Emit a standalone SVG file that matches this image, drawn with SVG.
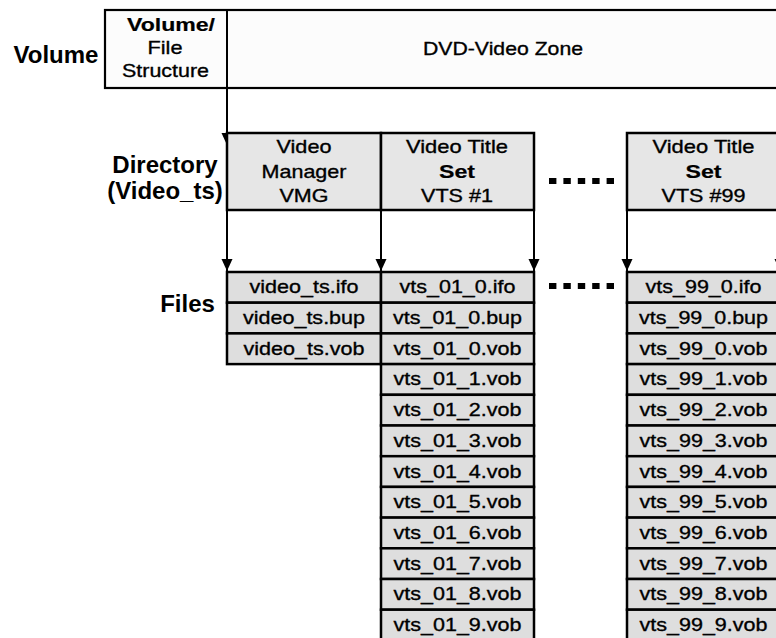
<svg xmlns="http://www.w3.org/2000/svg" width="776" height="638" viewBox="0 0 776 638">
<style>
text{font-family:"Liberation Sans",Arial,sans-serif;text-anchor:middle;fill:#000}
.lbl{font-weight:bold;font-size:24px}
.t{font-size:19px;stroke:#000;stroke-width:0.35px}
.b{font-weight:bold;stroke-width:0.2px}
.top{fill:#fcfcfc;stroke:#000;stroke-width:2.2}
.dir{fill:#e6e6e6;stroke:#000;stroke-width:2.5}
.file{fill:#dedede;stroke:#000;stroke-width:2.5}
.conn{stroke:#000;stroke-width:2;fill:none;marker-end:url(#arr)}
.dots{stroke:#000;stroke-width:6;stroke-dasharray:7.4 7;fill:none}
</style>
<defs>
<marker id="arr" markerUnits="userSpaceOnUse" markerWidth="12" markerHeight="12" viewBox="0 -6 12 12" refX="12" refY="0" orient="auto">
<path d="M0,-5.5 L12,0 L0,5.5 z" fill="#000"/>
</marker>
</defs>
<rect width="776" height="638" fill="#fff"/>

<g id="labels">
<text class="lbl" x="56" y="63">Volume</text>
<text class="lbl" x="165" y="173">Directory</text>
<text class="lbl" x="165" y="199">(Video_ts)</text>
<text class="lbl" x="187.5" y="311.5">Files</text>
</g>

<g id="connectors">
<line class="conn" x1="227" y1="88" x2="227" y2="145"/>
<line class="conn" x1="227" y1="210" x2="227" y2="271"/>
<line class="conn" x1="381" y1="210" x2="381" y2="271"/>
<line class="conn" x1="534" y1="210" x2="534" y2="271"/>
<line class="conn" x1="627" y1="210" x2="627" y2="271"/>
<line class="conn" x1="780" y1="210" x2="780" y2="271"/>
</g>

<g id="volume">
<rect class="top" x="105" y="10" width="675" height="78"/>
<line x1="227" y1="10" x2="227" y2="88" stroke="#000" stroke-width="2"/>
<text class="t b" x="171" y="31" font-size="20" textLength="88" lengthAdjust="spacingAndGlyphs">Volume/</text>
<text class="t" x="165" y="54" textLength="35" lengthAdjust="spacingAndGlyphs">File</text>
<text class="t" x="165.5" y="77" textLength="87" lengthAdjust="spacingAndGlyphs">Structure</text>
<text class="t" x="503" y="55" textLength="160" lengthAdjust="spacingAndGlyphs">DVD-Video Zone</text>
</g>

<g id="vmg">
<rect class="dir" x="227" y="133" width="154" height="77"/>
<text class="t" x="304" y="153" textLength="55" lengthAdjust="spacingAndGlyphs">Video</text>
<text class="t" x="304" y="177.5" textLength="85" lengthAdjust="spacingAndGlyphs">Manager</text>
<text class="t" x="304" y="202" textLength="49" lengthAdjust="spacingAndGlyphs">VMG</text>
</g>
<g id="vts1">
<rect class="dir" x="381" y="133" width="153" height="77"/>
<text class="t" x="457" y="153" textLength="102" lengthAdjust="spacingAndGlyphs">Video Title</text>
<text class="t b" x="457" y="177.5" font-size="21" textLength="36" lengthAdjust="spacingAndGlyphs">Set</text>
<text class="t" x="457" y="202" textLength="72" lengthAdjust="spacingAndGlyphs">VTS #1</text>
</g>
<g id="vts99">
<rect class="dir" x="627" y="133" width="153" height="77"/>
<text class="t" x="703.5" y="153" textLength="102" lengthAdjust="spacingAndGlyphs">Video Title</text>
<text class="t b" x="703.5" y="177.5" font-size="21" textLength="36" lengthAdjust="spacingAndGlyphs">Set</text>
<text class="t" x="703.5" y="202" textLength="84" lengthAdjust="spacingAndGlyphs">VTS #99</text>
</g>

<g id="ellipsis">
<line class="dots" x1="549" y1="181" x2="614" y2="181"/>
<line class="dots" x1="549" y1="286" x2="614" y2="286"/>
</g>

<g id="vmg-files">
<rect class="file" x="227" y="272" width="154" height="30.7"/><text class="t" x="304" y="293.3" textLength="109" lengthAdjust="spacingAndGlyphs">video_ts.ifo</text>
<rect class="file" x="227" y="302.7" width="154" height="30.7"/><text class="t" x="304" y="324" textLength="122" lengthAdjust="spacingAndGlyphs">video_ts.bup</text>
<rect class="file" x="227" y="333.4" width="154" height="30.7"/><text class="t" x="304" y="354.7" textLength="121" lengthAdjust="spacingAndGlyphs">video_ts.vob</text>
</g>

<g id="vts1-files">
<rect class="file" x="381" y="272" width="153" height="30.7"/><text class="t" x="457.5" y="293.3" textLength="116" lengthAdjust="spacingAndGlyphs">vts_01_0.ifo</text>
<rect class="file" x="381" y="302.7" width="153" height="30.7"/><text class="t" x="457.5" y="324" textLength="129" lengthAdjust="spacingAndGlyphs">vts_01_0.bup</text>
<rect class="file" x="381" y="333.4" width="153" height="30.7"/><text class="t" x="457.5" y="354.7" textLength="128" lengthAdjust="spacingAndGlyphs">vts_01_0.vob</text>
<rect class="file" x="381" y="364.1" width="153" height="30.7"/><text class="t" x="457.5" y="385.4" textLength="128" lengthAdjust="spacingAndGlyphs">vts_01_1.vob</text>
<rect class="file" x="381" y="394.8" width="153" height="30.7"/><text class="t" x="457.5" y="416.1" textLength="128" lengthAdjust="spacingAndGlyphs">vts_01_2.vob</text>
<rect class="file" x="381" y="425.5" width="153" height="30.7"/><text class="t" x="457.5" y="446.8" textLength="128" lengthAdjust="spacingAndGlyphs">vts_01_3.vob</text>
<rect class="file" x="381" y="456.2" width="153" height="30.7"/><text class="t" x="457.5" y="477.5" textLength="128" lengthAdjust="spacingAndGlyphs">vts_01_4.vob</text>
<rect class="file" x="381" y="486.9" width="153" height="30.7"/><text class="t" x="457.5" y="508.2" textLength="128" lengthAdjust="spacingAndGlyphs">vts_01_5.vob</text>
<rect class="file" x="381" y="517.6" width="153" height="30.7"/><text class="t" x="457.5" y="538.9" textLength="128" lengthAdjust="spacingAndGlyphs">vts_01_6.vob</text>
<rect class="file" x="381" y="548.3" width="153" height="30.7"/><text class="t" x="457.5" y="569.6" textLength="128" lengthAdjust="spacingAndGlyphs">vts_01_7.vob</text>
<rect class="file" x="381" y="579" width="153" height="30.7"/><text class="t" x="457.5" y="600.3" textLength="128" lengthAdjust="spacingAndGlyphs">vts_01_8.vob</text>
<rect class="file" x="381" y="609.7" width="153" height="30.7"/><text class="t" x="457.5" y="631" textLength="128" lengthAdjust="spacingAndGlyphs">vts_01_9.vob</text>
</g>

<g id="vts99-files">
<rect class="file" x="627" y="272" width="153" height="30.7"/><text class="t" x="703.5" y="293.3" textLength="116" lengthAdjust="spacingAndGlyphs">vts_99_0.ifo</text>
<rect class="file" x="627" y="302.7" width="153" height="30.7"/><text class="t" x="703.5" y="324" textLength="129" lengthAdjust="spacingAndGlyphs">vts_99_0.bup</text>
<rect class="file" x="627" y="333.4" width="153" height="30.7"/><text class="t" x="703.5" y="354.7" textLength="128" lengthAdjust="spacingAndGlyphs">vts_99_0.vob</text>
<rect class="file" x="627" y="364.1" width="153" height="30.7"/><text class="t" x="703.5" y="385.4" textLength="128" lengthAdjust="spacingAndGlyphs">vts_99_1.vob</text>
<rect class="file" x="627" y="394.8" width="153" height="30.7"/><text class="t" x="703.5" y="416.1" textLength="128" lengthAdjust="spacingAndGlyphs">vts_99_2.vob</text>
<rect class="file" x="627" y="425.5" width="153" height="30.7"/><text class="t" x="703.5" y="446.8" textLength="128" lengthAdjust="spacingAndGlyphs">vts_99_3.vob</text>
<rect class="file" x="627" y="456.2" width="153" height="30.7"/><text class="t" x="703.5" y="477.5" textLength="128" lengthAdjust="spacingAndGlyphs">vts_99_4.vob</text>
<rect class="file" x="627" y="486.9" width="153" height="30.7"/><text class="t" x="703.5" y="508.2" textLength="128" lengthAdjust="spacingAndGlyphs">vts_99_5.vob</text>
<rect class="file" x="627" y="517.6" width="153" height="30.7"/><text class="t" x="703.5" y="538.9" textLength="128" lengthAdjust="spacingAndGlyphs">vts_99_6.vob</text>
<rect class="file" x="627" y="548.3" width="153" height="30.7"/><text class="t" x="703.5" y="569.6" textLength="128" lengthAdjust="spacingAndGlyphs">vts_99_7.vob</text>
<rect class="file" x="627" y="579" width="153" height="30.7"/><text class="t" x="703.5" y="600.3" textLength="128" lengthAdjust="spacingAndGlyphs">vts_99_8.vob</text>
<rect class="file" x="627" y="609.7" width="153" height="30.7"/><text class="t" x="703.5" y="631" textLength="128" lengthAdjust="spacingAndGlyphs">vts_99_9.vob</text>
</g>
</svg>
